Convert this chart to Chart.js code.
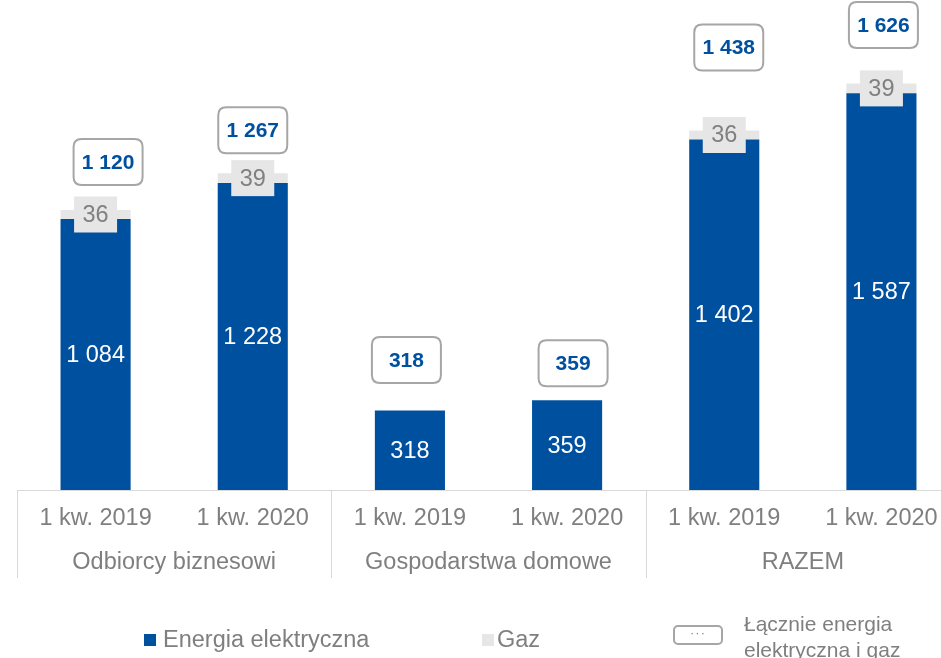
<!DOCTYPE html>
<html>
<head>
<meta charset="utf-8">
<script src="https://cdn.jsdelivr.net/npm/chart.js@4"></script>
<style>
  html, body { margin: 0; padding: 0; background: #fff; overflow: hidden; }
  #wrap { position: relative; width: 941px; height: 658px; overflow: hidden; }
  canvas { position: absolute; left: 0; top: 0; }
  .lg { position: absolute; font-family: "Liberation Sans", Arial, sans-serif; color: #7f7f7f; }
</style>
</head>
<body>
<div id="wrap">
  <canvas id="c" width="960" height="658"></canvas>
  <div class="lg" style="left:144px;top:634px;width:12px;height:12px;background:#0050A0;"></div>
  <div class="lg" style="left:163px;top:625px;font-size:23.5px;line-height:28px;">Energia elektryczna</div>
  <div class="lg" style="left:482px;top:634px;width:12px;height:12px;background:#e6e6e6;"></div>
  <div class="lg" style="left:497px;top:625px;font-size:23.5px;line-height:28px;">Gaz</div>
  <div class="lg" style="left:673px;top:625px;width:46px;height:16px;border:2px solid #a6a6a6;border-radius:5px;font-size:13px;line-height:12px;text-align:center;color:#7f7f7f;letter-spacing:1px;">···</div>
  <div class="lg" style="left:744px;top:611px;font-size:21px;line-height:26px;">Łącznie energia<br>elektryczna i gaz</div>
</div>
<script>
const periods = ['1 kw. 2019', '1 kw. 2020', '1 kw. 2019', '1 kw. 2020', '1 kw. 2019', '1 kw. 2020'];
const groups = ['Odbiorcy biznesowi', 'Gospodarstwa domowe', 'RAZEM'];
const energia = [1084, 1228, 318, 359, 1402, 1587];
const gaz = [36, 39, null, null, 36, 39];
const lacznie = [1120, 1267, 318, 359, 1438, 1626];

// label placement (style): horizontal shift and lift above the stack top, in px
const totalLabelDx = [12.5, 0, -3.5, 6, 4.5, 2];
const totalLabelLift = [48, 43, 50.5, 37, 83, 58.5];

const BLUE = '#0050A0';
const GRAY = '#e6e6e6';
const FONT = '"Liberation Sans", Arial, sans-serif';

function fmt(v) { return String(v).replace(/\B(?=(\d{3})+(?!\d))/g, ' '); }

function roundRect(ctx, x, y, w, h, r) {
  ctx.beginPath();
  ctx.moveTo(x + r, y);
  ctx.lineTo(x + w - r, y);
  ctx.quadraticCurveTo(x + w, y, x + w, y + r);
  ctx.lineTo(x + w, y + h - r);
  ctx.quadraticCurveTo(x + w, y + h, x + w - r, y + h);
  ctx.lineTo(x + r, y + h);
  ctx.quadraticCurveTo(x, y + h, x, y + h - r);
  ctx.lineTo(x, y + r);
  ctx.quadraticCurveTo(x, y, x + r, y);
  ctx.closePath();
}

const labelsPlugin = {
  id: 'labelsPlugin',
  afterDraw(chart) {
    const ctx = chart.ctx;
    const xs = chart.scales.x;
    // group separators
    ctx.save();
    ctx.strokeStyle = '#d9d9d9';
    ctx.lineWidth = 1;
    const n = periods.length;
    for (let g = 0; g <= groups.length; g++) {
      const px = Math.round(xs.left + (xs.right - xs.left) * (g * 2) / n) + 0.5;
      ctx.beginPath();
      ctx.moveTo(px, xs.top);
      ctx.lineTo(px, xs.top + 88);
      ctx.stroke();
    }
    ctx.restore();

    const mE = chart.getDatasetMeta(0);
    const mG = chart.getDatasetMeta(1);
    ctx.save();
    ctx.textAlign = 'center';
    ctx.textBaseline = 'middle';
    // energia values
    ctx.font = '23.5px ' + FONT;
    ctx.fillStyle = '#ffffff';
    mE.data.forEach((el, i) => {
      const cy = (el.y + el.base) / 2;
      ctx.fillText(fmt(energia[i]), el.x, cy + 1);
    });
    // gaz values
    mG.data.forEach((el, i) => {
      if (gaz[i] == null) return;
      const cy = (el.y + el.base) / 2;
      ctx.fillStyle = GRAY;
      ctx.fillRect(el.x - 21.5, cy - 18, 43, 36);
      ctx.fillStyle = '#808080';
      ctx.font = '23.5px ' + FONT;
      ctx.fillText(fmt(gaz[i]), el.x, cy + 1);
    });
    // totals
    mE.data.forEach((el, i) => {
      const top = gaz[i] == null ? el.y : mG.data[i].y;
      const cx = el.x + totalLabelDx[i];
      const cy = top - totalLabelLift[i];
      roundRect(ctx, cx - 34.5, cy - 23, 69, 46, 8);
      ctx.fillStyle = '#ffffff';
      ctx.fill();
      ctx.lineWidth = 2;
      ctx.strokeStyle = '#a6a6a6';
      ctx.stroke();
      ctx.fillStyle = BLUE;
      ctx.font = 'bold 21px ' + FONT;
      ctx.fillText(fmt(lacznie[i]), cx, cy + 1);
    });
    ctx.restore();
  }
};

new Chart(document.getElementById('c'), {
  type: 'bar',
  data: {
    labels: periods,
    datasets: [
      { label: 'Energia elektryczna', data: energia, backgroundColor: BLUE, borderWidth: 0 },
      { label: 'Gaz', data: gaz, backgroundColor: GRAY, borderWidth: 0 }
    ]
  },
  options: {
    responsive: false,
    devicePixelRatio: 1,
    animation: false,
    layout: { padding: { left: 17, right: 0, top: 0, bottom: 73 } },
    datasets: { bar: { categoryPercentage: 1, barPercentage: 0.446 } },
    plugins: { legend: { display: false }, tooltip: { enabled: false } },
    scales: {
      x: {
        type: 'category',
        stacked: true,
        grid: { display: false, drawTicks: false },
        border: { display: true, color: '#d9d9d9', width: 1 },
        ticks: { font: { family: FONT, size: 23.5 }, color: '#7f7f7f', padding: 14, maxRotation: 0, autoSkip: false },
        afterFit: (s) => { s.height = 50; }
      },
      x2: {
        type: 'category',
        labels: groups,
        position: 'bottom',
        offset: true,
        grid: { display: false, drawTicks: false },
        border: { display: false },
        ticks: { font: { family: FONT, size: 23.5 }, color: '#7f7f7f', padding: 8, maxRotation: 0, autoSkip: false },
        afterFit: (s) => { s.height = 45; }
      },
      y: {
        stacked: true,
        display: false,
        min: 0,
        max: 1960
      }
    }
  },
  plugins: [labelsPlugin]
});
</script>
</body>
</html>
